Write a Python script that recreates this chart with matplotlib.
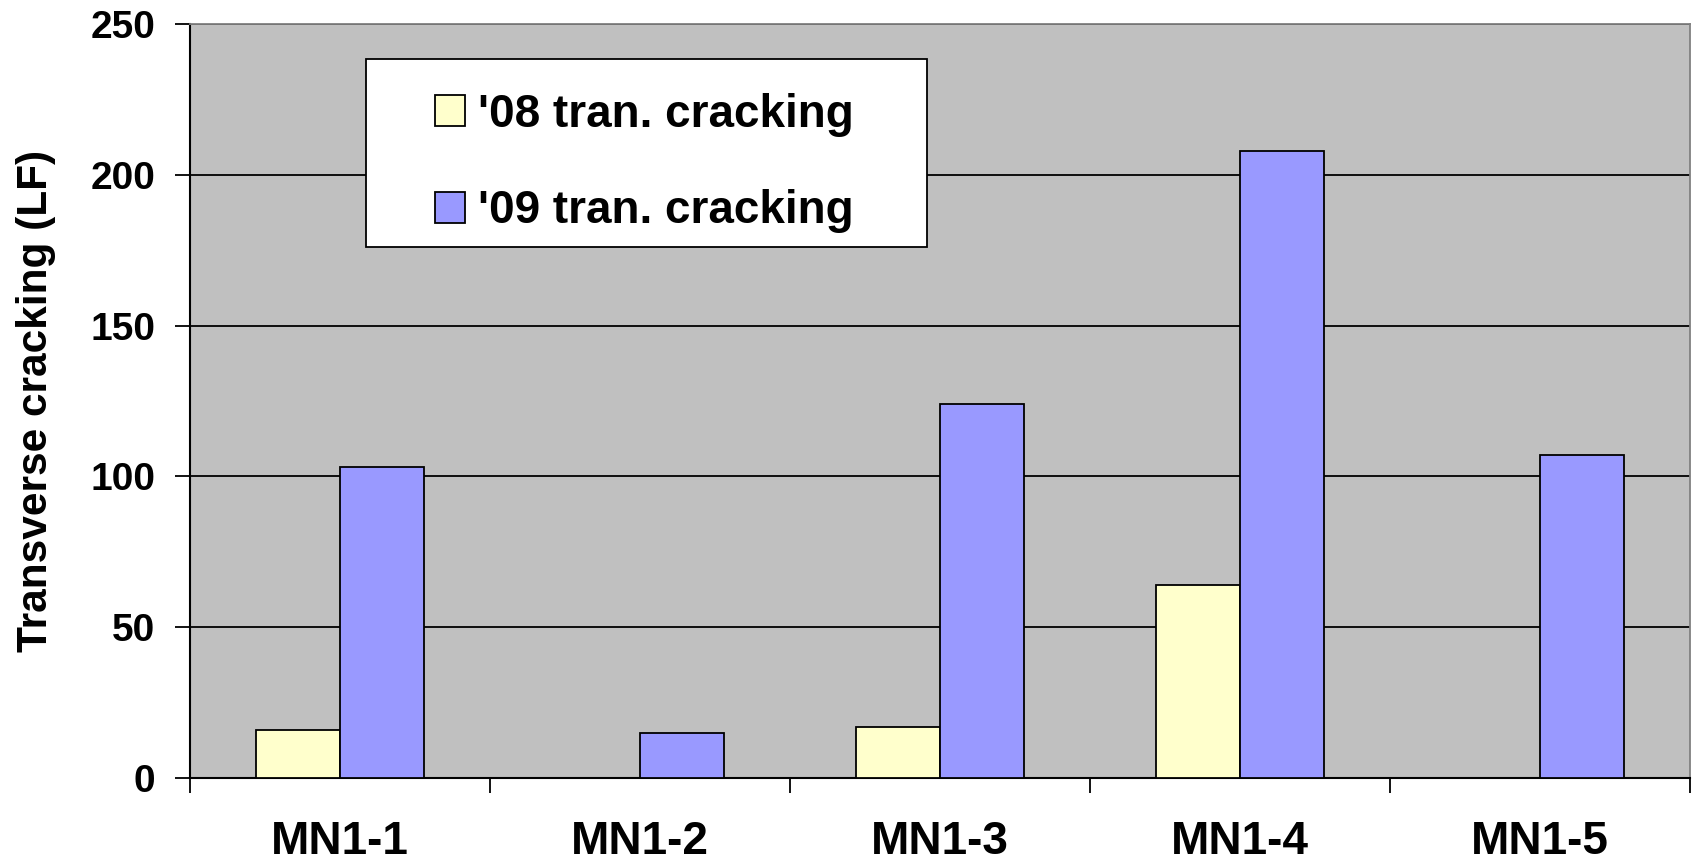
import numpy as np
import matplotlib
matplotlib.use('Agg')
import matplotlib.pyplot as plt
from matplotlib.patches import Rectangle

plt.rcParams['font.family'] = ['Liberation Sans', 'DejaVu Sans']
plt.rcParams['font.weight'] = 'bold'

# data
sites = ['MN1-1', 'MN1-2', 'MN1-3', 'MN1-4', 'MN1-5']
crack_08 = [16, 0, 17, 64, 0]
crack_09 = [103, 15, 124, 208, 107]
yticks = [0, 50, 100, 150, 200, 250]

fig = plt.figure(figsize=(16.96, 8.63), dpi=100)
ax = fig.add_axes([190/1696, 85/863, 1500/1696, 754/863])
ax.set_facecolor('#C0C0C0')

x = np.arange(len(sites))
w = 0.28
ax.bar(x - w/2, crack_08, w, color='#FFFFCC', edgecolor='black', linewidth=1.3,
       label="'08 tran. cracking", zorder=3)
ax.bar(x + w/2, crack_09, w, color='#9999FF', edgecolor='black', linewidth=1.3,
       label="'09 tran. cracking", zorder=3)

ax.set_xlim(-0.5, len(sites) - 0.5)
ax.set_ylim(0, 250)
ax.set_yticks(yticks)
ax.set_yticklabels([str(v) for v in yticks], fontsize=28, fontweight='bold')
ax.yaxis.grid(True, color='black', linewidth=1.3, zorder=1)
ax.set_axisbelow(True)

ax.set_xticks(x)
ax.set_xticklabels(sites, fontsize=33, fontweight='bold')
ax.set_xticks(np.arange(-0.5, len(sites)), minor=True)
ax.tick_params(axis='x', which='major', length=0, pad=30)
ax.tick_params(axis='x', which='minor', length=11, width=1.3, direction='out')
ax.tick_params(axis='y', length=11, width=1.3, pad=14)

for s in ['left', 'bottom']:
    ax.spines[s].set_color('black')
    ax.spines[s].set_linewidth(1.5)
for s in ['top', 'right']:
    ax.spines[s].set_color('#808080')
    ax.spines[s].set_linewidth(1.3)

ax.set_ylabel('Transverse cracking (LF)', fontsize=30.5, fontweight='bold')
ax.yaxis.set_label_coords(-0.089, 0.5)

# legend box
ax.add_patch(Rectangle((0.117, 0.704), 0.374, 0.25, transform=ax.transAxes,
                       facecolor='white', edgecolor='black', linewidth=1.3, zorder=4))
leg = ax.legend(loc='upper left', bbox_to_anchor=(0.163, 0.909), frameon=False,
                fontsize=33, handlelength=0.66, handleheight=0.66,
                handletextpad=0.3, labelspacing=1.15, borderpad=0, borderaxespad=0)
leg.set_zorder(5)

plt.savefig('out.png', dpi=100)
